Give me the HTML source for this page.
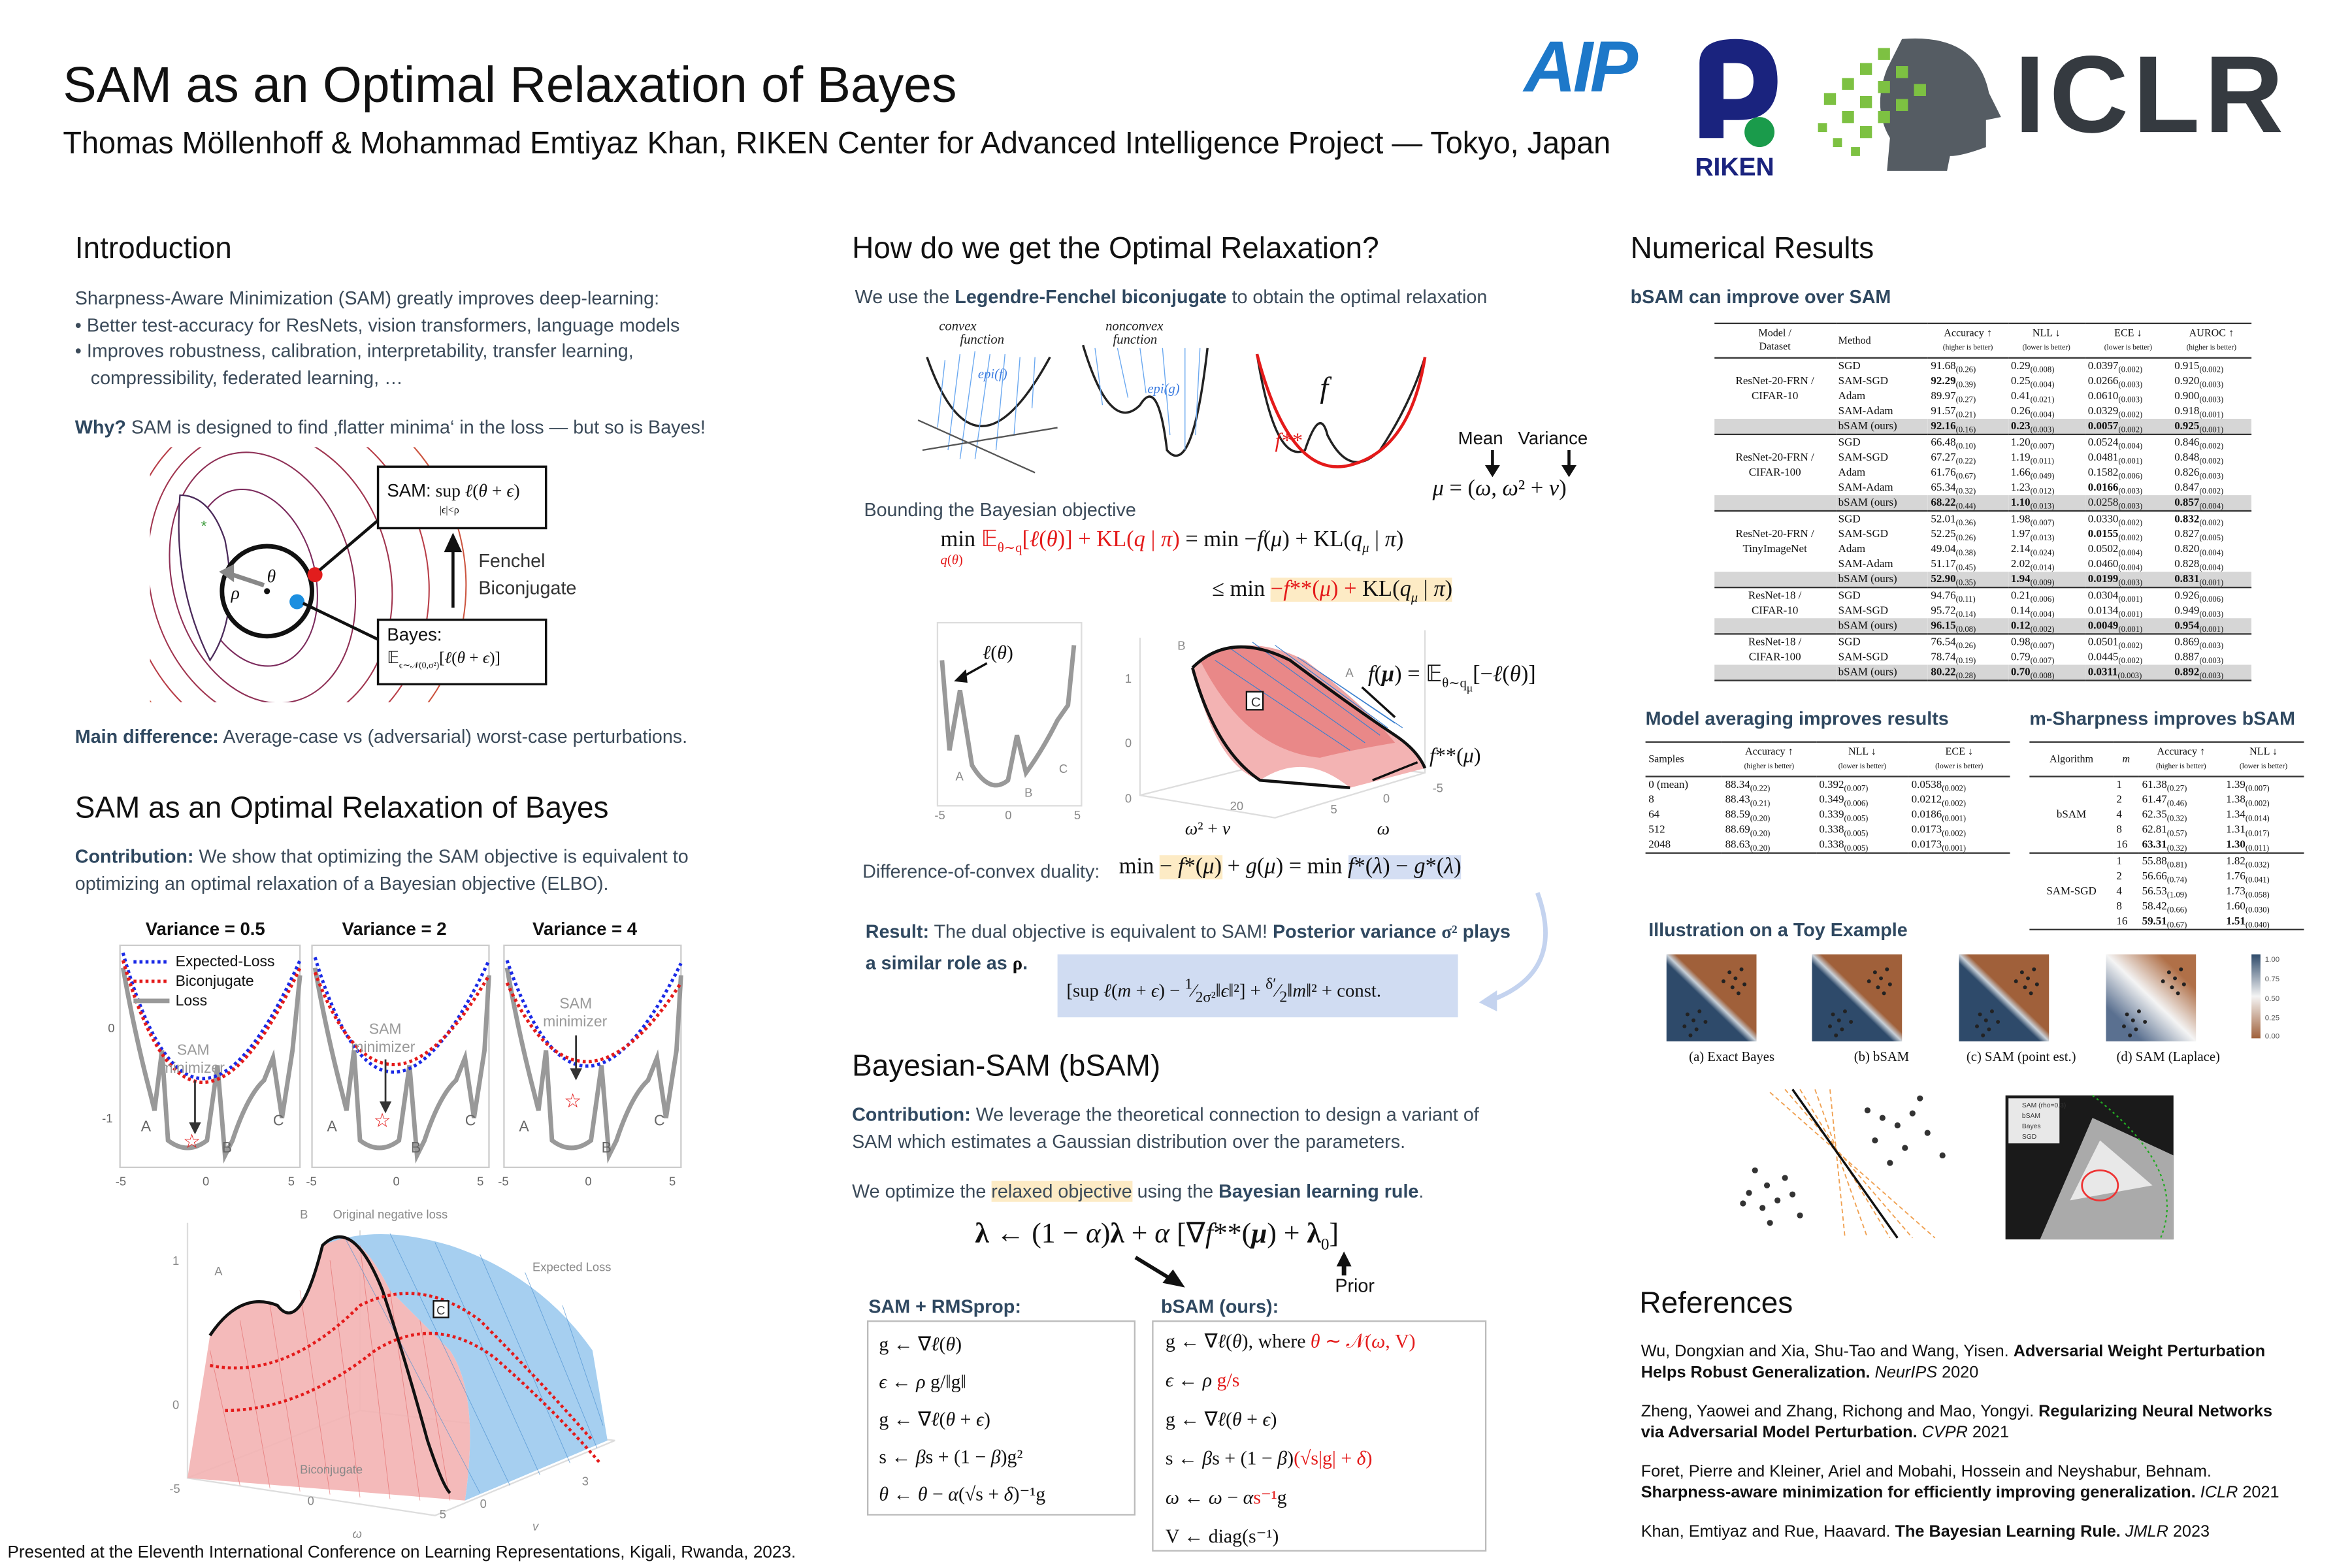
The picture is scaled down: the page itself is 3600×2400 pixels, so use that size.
<!DOCTYPE html>
<html><head><meta charset="utf-8"><style>
html,body{margin:0;padding:0;background:#fff;}
#wrap{width:3600px;height:2400px;overflow:hidden;position:relative;background:#fff;}
#p{position:absolute;left:0;top:0;width:1568px;height:1045px;transform:scale(2.2959,2.2967);transform-origin:0 0;font-family:"Liberation Sans",sans-serif;color:#3b4a59;}
.a{position:absolute;white-space:nowrap;}
.h{font-size:20px;color:#111;}
.t{font-size:12.5px;line-height:17.5px;}
.s{font-size:12.5px;font-weight:bold;color:#2f4860;}
.m{font-family:"Liberation Serif",serif;color:#111;}
table{border-collapse:collapse;font-family:"Liberation Serif",serif;color:#111;}
.tb td{padding:0 2px;height:10px;line-height:10px;font-size:7.4px;overflow:hidden;}
.tb .g td{background:#d6d6d6;}
.tb sub{font-size:5.5px;vertical-align:baseline;position:relative;top:1.5px;line-height:0;}
.tb .hd td{font-size:7px;line-height:9px;height:22px;text-align:center;}
.tb .sm{font-size:5px;}
.tb tr.b td{border-top:1.5px solid #333;}
</style></head><body><div id="wrap"><div id="p">

<!-- Title -->
<div class="a" style="left:42px;top:39px;font-size:33.5px;color:#111;">SAM as an Optimal Relaxation of Bayes</div>
<div class="a" style="left:42px;top:85px;font-size:20.4px;color:#111;">Thomas Möllenhoff &amp; Mohammad Emtiyaz Khan, RIKEN Center for Advanced Intelligence Project — Tokyo, Japan</div>

<!-- Logos -->
<div class="a" style="left:1016px;top:18px;font-size:48px;font-weight:bold;font-style:italic;color:#1d78c9;letter-spacing:-2px;">AIP</div>
<svg class="a" style="left:1125px;top:22px" width="70" height="100" viewBox="0 0 70 100">
<path d="M8 70 V20 Q8 4 32 4 Q60 4 60 32 Q60 58 34 58 L24 58 L24 70 Z M24 20 V44 L32 44 Q44 44 44 32 Q44 20 32 20 Z" fill="#1a237e"/>
<circle cx="48" cy="66" r="10" fill="#1a9b4b"/>
<text x="5" y="95" font-family="Liberation Sans" font-weight="bold" font-size="17" fill="#1a237e">RIKEN</text></svg>
<svg class="a" style="left:1208px;top:22px" width="130" height="92" viewBox="0 0 130 92">
<path d="M60 4 Q110 0 118 40 L126 56 L116 58 L116 76 Q100 82 92 82 L90 92 L50 92 L52 70 Q40 50 50 24 Z" fill="#555c63"/>
<g fill="#7dc142"><rect x="8" y="40" width="8" height="8"/><rect x="20" y="30" width="8" height="8"/><rect x="20" y="52" width="8" height="8"/><rect x="32" y="20" width="8" height="8"/><rect x="32" y="42" width="8" height="8"/><rect x="32" y="62" width="8" height="8"/><rect x="44" y="10" width="8" height="8"/><rect x="44" y="32" width="8" height="8"/><rect x="44" y="52" width="8" height="8"/><rect x="56" y="22" width="8" height="8"/><rect x="56" y="44" width="8" height="8"/><rect x="4" y="60" width="6" height="6"/><rect x="14" y="70" width="6" height="6"/><rect x="68" y="34" width="8" height="8"/><rect x="26" y="76" width="6" height="6"/></g></svg>
<div class="a" style="left:1343px;top:22px;font-size:73px;font-weight:bold;color:#353a40;letter-spacing:3px;">ICLR</div>

<!-- Column 1 -->
<div class="a h" style="left:50px;top:155px;">Introduction</div>
<div class="a t" style="left:50px;top:191px;">Sharpness-Aware Minimization (SAM) greatly improves deep-learning:<br>• Better test-accuracy for ResNets, vision transformers, language models<br>• Improves robustness, calibration, interpretability, transfer learning,<br>&nbsp;&nbsp;&nbsp;compressibility, federated learning, …</div>
<div class="a t" style="left:50px;top:277px;"><b style="color:#2f4860">Why?</b> SAM is designed to find ‚flatter minima‘ in the loss — but so is Bayes!</div>

<svg class="a" style="left:100px;top:298px" width="280" height="170" viewBox="100 298 280 170">
<g fill="none" stroke="#7b2a5c" stroke-width="0.9">
<ellipse cx="170" cy="385" rx="40" ry="60" transform="rotate(-15 170 385)"/>
<ellipse cx="175" cy="385" rx="60" ry="85" transform="rotate(-15 175 385)" stroke="#8e2f55"/>
<ellipse cx="180" cy="385" rx="80" ry="100" transform="rotate(-15 180 385)" stroke="#a0344e"/>
<ellipse cx="185" cy="385" rx="100" ry="115" transform="rotate(-15 185 385)" stroke="#b83d47"/>
<ellipse cx="190" cy="385" rx="120" ry="130" transform="rotate(-15 190 385)" stroke="#cc5540"/>
</g>
<path d="M120 330 Q115 390 140 440 Q160 410 150 360 Q140 330 120 330Z" fill="#fff" stroke="#4a2a5a"/>
<text x="134" y="354" fill="#3a9a3a" font-size="10">*</text>
<circle cx="178" cy="394" r="30" fill="#fff" stroke="#111" stroke-width="3"/>
<circle cx="178" cy="394" r="2" fill="#111"/>
<path d="M176 390 L152 382" stroke="#888" stroke-width="3"/><path d="M146 381 L156 376 L156 388Z" fill="#888"/>
<text x="154" y="399" font-family="Liberation Serif" font-style="italic" font-size="12" fill="#111">ρ</text>
<text x="178" y="388" font-family="Liberation Serif" font-style="italic" font-size="12" fill="#111">θ</text>
<circle cx="210" cy="383" r="5" fill="#e21d1d"/><circle cx="198" cy="401" r="5" fill="#1c8fe0"/>
<path d="M213 380 L260 340" stroke="#111" stroke-width="2"/>
<path d="M202 402 L260 430" stroke="#111" stroke-width="2"/>
<rect x="252" y="311" width="112" height="41" fill="#fff" stroke="#111" stroke-width="1.5"/>
<rect x="252" y="413" width="112" height="43" fill="#fff" stroke="#111" stroke-width="1.5"/>
<path d="M302 405 V366" stroke="#111" stroke-width="2"/><path d="M296 368 L302 355 L308 368Z" fill="#111"/>
</svg>
<div class="a m" style="left:258px;top:320px;font-size:12px;"><span style="font-family:'Liberation Sans'">SAM:</span> sup <i>ℓ</i>(<i>θ</i> + <i>ϵ</i>)</div>
<div class="a m" style="left:293px;top:336px;font-size:7px;">|ϵ|&lt;ρ</div>
<div class="a t" style="left:319px;top:366px;color:#333;">Fenchel<br>Biconjugate</div>
<div class="a" style="left:258px;top:416px;font-size:12px;color:#111;">Bayes:</div>
<div class="a m" style="left:258px;top:432px;font-size:11px;">𝔼<sub style="font-size:6px">ϵ∼𝒩(0,σ²)</sub>[<i>ℓ</i>(<i>θ</i> + <i>ϵ</i>)]</div>
<div class="a t" style="left:50px;top:483px;"><b style="color:#2f4860">Main difference:</b> Average-case vs (adversarial) worst-case perturbations.</div>

<div class="a h" style="left:50px;top:528px;">SAM as an Optimal Relaxation of Bayes</div>
<div class="a t" style="left:50px;top:563px;"><b style="color:#2f4860">Contribution:</b> We show that optimizing the SAM objective is equivalent to<br>optimizing an optimal relaxation of a Bayesian objective (ELBO).</div>

<div class="a" style="left:97px;top:612px;font-size:12px;font-weight:bold;color:#111;">Variance = 0.5</div>
<div class="a" style="left:228px;top:612px;font-size:12px;font-weight:bold;color:#111;">Variance = 2</div>
<div class="a" style="left:355px;top:612px;font-size:12px;font-weight:bold;color:#111;">Variance = 4</div>
<svg class="a" style="left:60px;top:625px" width="400" height="170" viewBox="60 625 400 170">
<g font-family="Liberation Sans" font-size="8" fill="#666">
<rect x="80" y="630" width="120" height="148" fill="none" stroke="#ccc"/>
<path d="M82 645 Q90 690 100 728 L103 740 L108 700 L112 760 Q125 770 138 760 L145 710 L150 770 L155 760 Q165 730 176 720 L182 705 L188 745 L195 700 L200 650" fill="none" stroke="#999" stroke-width="3"/>
<path d="M82 635 Q128 800 200 640" fill="none" stroke="#1a2ae6" stroke-width="2.2" stroke-dasharray="2 2"/>
<path d="M82 640 Q128 800 200 645" fill="none" stroke="#e41a1a" stroke-width="2.2" stroke-dasharray="2 2"/>
<text x="72" y="688">0</text><text x="68" y="748">-1</text><text x="77" y="790">-5</text><text x="135" y="790">0</text><text x="192" y="790">5</text>
<text x="94" y="754" font-size="10">A</text><text x="148" y="768" font-size="10">B</text><text x="182" y="750" font-size="10">C</text>
<text x="118" y="703" font-size="10" fill="#999">SAM</text><text x="107" y="715" font-size="10" fill="#999">minimizer</text>
<path d="M130 720 V752" stroke="#333" stroke-width="1.2"/><path d="M126 748 L130 756 L134 748Z" fill="#333"/>
<text x="122" y="765" font-size="13" fill="#e41a1a">☆</text>
<rect x="208" y="630" width="118" height="148" fill="none" stroke="#ccc"/>
<path d="M210 645 Q218 690 228 728 L231 740 L236 700 L240 760 Q253 770 266 760 L273 710 L278 770 L283 760 Q293 730 304 720 L310 705 L316 745 L323 700 L326 650" fill="none" stroke="#999" stroke-width="3"/>
<path d="M210 638 Q256 790 326 640" fill="none" stroke="#1a2ae6" stroke-width="2.2" stroke-dasharray="2 2"/>
<path d="M210 648 Q256 770 326 650" fill="none" stroke="#e41a1a" stroke-width="2.2" stroke-dasharray="2 2"/>
<text x="218" y="754" font-size="10">A</text><text x="274" y="768" font-size="10">B</text><text x="310" y="750" font-size="10">C</text>
<text x="246" y="689" font-size="10" fill="#999">SAM</text><text x="234" y="701" font-size="10" fill="#999">minimizer</text>
<path d="M257 706 V738" stroke="#333" stroke-width="1.2"/><path d="M253 734 L257 742 L261 734Z" fill="#333"/>
<text x="249" y="751" font-size="13" fill="#e41a1a">☆</text>
<text x="204" y="790">-5</text><text x="262" y="790">0</text><text x="318" y="790">5</text>
<rect x="336" y="630" width="118" height="148" fill="none" stroke="#ccc"/>
<path d="M338 645 Q346 690 356 728 L359 740 L364 700 L368 760 Q381 770 394 760 L401 710 L406 770 L411 760 Q421 730 432 720 L438 705 L444 745 L451 700 L454 650" fill="none" stroke="#999" stroke-width="3"/>
<path d="M338 640 Q386 780 454 642" fill="none" stroke="#1a2ae6" stroke-width="2.2" stroke-dasharray="2 2"/>
<path d="M338 655 Q386 760 454 655" fill="none" stroke="#e41a1a" stroke-width="2.2" stroke-dasharray="2 2"/>
<text x="346" y="754" font-size="10">A</text><text x="401" y="768" font-size="10">B</text><text x="436" y="750" font-size="10">C</text>
<text x="373" y="672" font-size="10" fill="#999">SAM</text><text x="362" y="684" font-size="10" fill="#999">minimizer</text>
<path d="M384 690 V716" stroke="#333" stroke-width="1.2"/><path d="M380 712 L384 720 L388 712Z" fill="#333"/>
<text x="376" y="738" font-size="13" fill="#e41a1a">☆</text>
<text x="332" y="790">-5</text><text x="390" y="790">0</text><text x="446" y="790">5</text>
</g>
<path d="M89 641 H113" stroke="#1a2ae6" stroke-width="2.2" stroke-dasharray="2 2"/>
<path d="M89 654 H113" stroke="#e41a1a" stroke-width="2.2" stroke-dasharray="2 2"/>
<path d="M89 667 H113" stroke="#999" stroke-width="3"/>
</svg>
<div class="a" style="left:117px;top:635px;font-size:10px;color:#111;line-height:13px;">Expected-Loss<br>Biconjugate<br>Loss</div>

<!-- 3D plot col1 -->
<svg class="a" style="left:100px;top:800px" width="320" height="225" viewBox="100 800 320 225">
<g stroke="#ddd" fill="none"><path d="M125 815 L125 985 L290 1010 L410 960"/><path d="M125 985 L240 940 L410 960"/><path d="M240 820 L240 940"/></g>
<path d="M125 985 L140 890 Q160 860 185 870 Q200 890 215 830 Q235 810 260 860 L300 900 Q320 930 310 1000 L125 985Z" fill="#f3b3b3" opacity="0.9"/>
<path d="M215 830 Q250 815 300 830 Q360 850 395 900 L405 960 L310 1000 Q320 930 300 900 L260 860 Q235 810 215 830Z" fill="#a6cff0"/>
<g stroke="#e06060" stroke-width="0.4" opacity="0.6">
<path d="M140 900 L160 990 M160 880 L180 992 M180 870 L200 994 M200 860 L220 996 M220 840 L240 998 M240 830 L260 999 M260 860 L280 1000 M280 880 L300 1000"/></g>
<g stroke="#4a8fd0" stroke-width="0.4" opacity="0.7"><path d="M230 825 L320 995 M260 822 L340 990 M290 828 L360 983 M320 836 L380 975 M350 848 L398 965 M375 870 L402 950"/></g>
<path d="M140 890 Q160 860 185 870 Q200 890 215 830 Q235 810 255 860 Q270 905 285 960 Q295 990 300 995" fill="none" stroke="#111" stroke-width="2"/>
<path d="M140 910 Q190 920 240 870 Q280 850 320 880 Q360 920 395 960" fill="none" stroke="#e41a1a" stroke-width="2" stroke-dasharray="2 2"/>
<path d="M150 940 Q200 940 250 900 Q290 875 330 905 Q370 940 400 975" fill="none" stroke="#e41a1a" stroke-width="2" stroke-dasharray="2 2"/>
<g font-family="Liberation Sans" font-size="8" fill="#888">
<text x="200" y="812">B</text><text x="222" y="812">Original negative loss</text><text x="143" y="850">A</text><text x="355" y="847">Expected Loss</text>
<text x="200" y="982">Biconjugate</text><text x="115" y="843">1</text><text x="115" y="939">0</text><text x="113" y="995">-5</text>
<text x="205" y="1003">0</text><text x="293" y="1012">5</text><text x="320" y="1005">0</text><text x="388" y="990">3</text>
<text x="235" y="1025" font-style="italic">ω</text><text x="355" y="1020" font-style="italic">v</text></g>
<rect x="289" y="867" width="10" height="11" fill="#fff" stroke="#111"/><text x="291" y="876" font-size="8" fill="#333" font-family="Liberation Sans">C</text>
</svg>
<div class="a" style="left:5px;top:1029px;font-size:11.4px;color:#111;">Presented at the Eleventh International Conference on Learning Representations, Kigali, Rwanda, 2023.</div>

<!-- Column 2 -->
<div class="a h" style="left:568px;top:155px;">How do we get the Optimal Relaxation?</div>
<div class="a t" style="left:570px;top:190px;">We use the <b style="color:#2f4860">Legendre-Fenchel biconjugate</b> to obtain the optimal relaxation</div>
<svg class="a" style="left:610px;top:208px" width="460" height="130" viewBox="610 208 460 130">
<g font-family="Liberation Serif" font-style="italic" fill="#222" font-size="9"><text x="626" y="220">convex</text><text x="640" y="229">function</text><text x="737" y="220">nonconvex</text><text x="742" y="229">function</text><text x="652" y="252" fill="#3a7be0">epi(f)</text><text x="765" y="262" fill="#3a7be0">epi(g)</text></g>
<path d="M618 238 Q650 330 700 238" fill="none" stroke="#222" stroke-width="1.5"/>
<g stroke="#6aa8f0" stroke-width="0.6"><path d="M630 240 L625 285 M640 236 L632 300 M650 234 L640 306 M660 236 L650 306 M670 236 L664 300 M680 238 L676 290 M690 238 L688 272"/></g>
<path d="M612 280 L690 315 M615 300 L705 285" stroke="#555"/>
<path d="M722 230 Q740 290 760 270 Q772 250 778 300 Q795 320 805 232" fill="none" stroke="#222" stroke-width="1.5"/>
<g stroke="#6aa8f0" stroke-width="0.6"><path d="M730 232 L735 270 M745 232 L752 265 M760 232 L764 262 M775 232 L780 290 M790 232 L790 300 M800 232 L797 290"/></g>
<path d="M838 236 Q850 310 870 300 Q880 270 885 290 Q900 320 920 300 Q940 270 950 238" fill="none" stroke="#222" stroke-width="1.5"/>
<path d="M838 236 Q860 320 900 310 Q940 300 950 238" fill="none" stroke="#e41a1a" stroke-width="2"/>
<text x="880" y="265" font-family="Liberation Serif" font-style="italic" font-size="20" fill="#111">f</text>
<text x="850" y="298" font-family="Liberation Serif" font-style="italic" font-size="14" fill="#e41a1a">f**</text>
<path d="M995 300 V312 M1046 300 V312" stroke="#111" stroke-width="2"/><path d="M990 310 L995 318 L1000 310Z M1041 310 L1046 318 L1051 310Z" fill="#111"/>
</svg>
<div class="a" style="left:972px;top:285px;font-size:12px;color:#111;">Mean&nbsp;&nbsp; Variance</div>
<div class="a m" style="left:955px;top:318px;font-size:15px;"><i>μ</i> = (<i>ω</i>, <i>ω</i>² + <i>v</i>)</div>
<div class="a t" style="left:576px;top:332px;">Bounding the Bayesian objective</div>
<div class="a m" style="left:627px;top:350px;font-size:15px;">min <span style="color:#e41a1a">𝔼<sub style="font-size:9px">θ∼q</sub>[<i>ℓ</i>(<i>θ</i>)] + KL(<i>q</i> | <i>π</i>)</span> = min −<i>f</i>(<i>μ</i>) + KL(<i>q<sub style="font-size:9px">μ</sub></i> | <i>π</i>)</div>
<div class="a m" style="left:627px;top:368px;font-size:9px;color:#e41a1a"><i>q</i>(<i>θ</i>)</div>
<div class="a m" style="left:808px;top:385px;font-size:15px;">≤ min <span style="background:#fdebc5;color:#e41a1a">−<i>f</i>**(<i>μ</i>) + <span style="color:#111">KL(<i>q<sub style="font-size:9px">μ</sub></i> | <i>π</i>)</span></span></div>

<svg class="a" style="left:615px;top:410px" width="440" height="160" viewBox="615 410 440 160">
<rect x="625" y="415" width="96" height="122" fill="none" stroke="#ddd"/>
<path d="M628 440 L633 500 L640 460 L648 510 Q660 530 672 520 L678 490 L684 515 Q695 500 705 480 L712 470 L716 430" fill="none" stroke="#999" stroke-width="3"/>
<path d="M658 442 L640 452" stroke="#111" stroke-width="1.5"/><path d="M636 454 L644 446 L645 455Z" fill="#111"/>
<g font-family="Liberation Sans" font-size="8" fill="#888"><text x="637" y="520">A</text><text x="683" y="531">B</text><text x="706" y="515">C</text><text x="623" y="546">-5</text><text x="670" y="546">0</text><text x="716" y="546">5</text>
<text x="785" y="433">B</text><text x="897" y="451">A</text><text x="750" y="455">1</text><text x="750" y="498">0</text><text x="750" y="535">0</text><text x="820" y="540">20</text><text x="887" y="542">5</text><text x="922" y="535">0</text><text x="955" y="528">-5</text></g>
<g stroke="#ddd" fill="none"><path d="M760 425 L760 530 L850 545 L950 515 L950 420"/><path d="M760 530 L860 505 L950 515"/></g>
<path d="M795 445 Q820 420 860 440 Q900 470 930 490 Q945 500 950 512 L900 525 Q870 500 840 520 Q810 510 795 445Z" fill="#f3b3b3"/>
<path d="M800 440 Q830 420 870 440 Q910 470 930 495 Q900 500 880 505 Q830 500 800 440Z" fill="#e26a6a" opacity="0.6"/>
<g stroke="#3a80d0" stroke-width="0.5"><path d="M810 440 L900 500 M820 432 L910 495 M835 428 L920 490 M850 430 L925 485 M865 438 L930 482 M880 448 L935 485"/></g>
<path d="M795 445 Q820 420 860 440 Q900 470 930 490 Q945 500 950 512" fill="none" stroke="#111" stroke-width="2"/>
<path d="M795 445 Q810 500 840 520 L900 525" fill="none" stroke="#111" stroke-width="2"/>
<rect x="831" y="461" width="11" height="12" fill="#fff" stroke="#111"/><text x="834" y="471" font-size="9" fill="#333" font-family="Liberation Sans">C</text>
<path d="M908 458 L930 478 M945 508 L915 520" stroke="#111" stroke-width="1.5"/>
</svg>
<div class="a m" style="left:912px;top:440px;font-size:15px;"><i>f</i>(<b><i>μ</i></b>) = 𝔼<sub style="font-size:9px">θ∼q<sub>μ</sub></sub>[−<i>ℓ</i>(<i>θ</i>)]</div>
<div class="a m" style="left:655px;top:427px;font-size:13px;"><i>ℓ</i>(<i>θ</i>)</div>
<div class="a m" style="left:953px;top:497px;font-size:14px;"><i>f</i>**(<i>μ</i>)</div>
<div class="a m" style="left:790px;top:545px;font-size:12px;"><i>ω</i>² + <i>v</i></div>
<div class="a m" style="left:918px;top:545px;font-size:12px;"><i>ω</i></div>
<div class="a t" style="left:575px;top:573px;">Difference-of-convex duality:</div>
<div class="a m" style="left:746px;top:570px;font-size:15px;">min <span style="background:#fdebc5">− <i>f</i>*(<i>μ</i>)</span> + <i>g</i>(<i>μ</i>) = min <span style="background:#d4def3"><i>f</i>*(<i>λ</i>) − <i>g</i>*(<i>λ</i>)</span></div>
<div class="a t" style="left:577px;top:613px;color:#2f4860;"><b>Result:</b> <span style="color:#3b4a59">The dual objective is equivalent to SAM!</span> <b>Posterior variance <span class="m" style="color:#2f4860">σ²</span> plays</b></div>
<div class="a t" style="left:577px;top:634px;color:#2f4860;"><b>a similar role as <span class="m">ρ</span>.</b></div>
<div class="a m" style="left:705px;top:636px;width:267px;height:42px;background:#d0dcf2;font-size:12.5px;line-height:42px;padding-left:6px;box-sizing:border-box;">[sup <i>ℓ</i>(<i>m</i> + <i>ϵ</i>) − <sup style="font-size:10px">1</sup>⁄<sub style="font-size:10px">2σ²</sub>‖<i>ϵ</i>‖²] + <sup>δ′</sup>⁄<sub>2</sub>‖<i>m</i>‖² + const.</div>
<svg class="a" style="left:980px;top:590px" width="60" height="90" viewBox="980 590 60 90"><path d="M1025 595 Q1045 650 990 668" fill="none" stroke="#c4d3ef" stroke-width="3"/><path d="M986 668 L998 660 L998 674Z" fill="#c4d3ef"/></svg>

<div class="a h" style="left:568px;top:700px;">Bayesian-SAM (bSAM)</div>
<div class="a t" style="left:568px;top:735px;"><b style="color:#2f4860">Contribution:</b> We leverage the theoretical connection to design a variant of<br>SAM which estimates a Gaussian distribution over the parameters.</div>
<div class="a t" style="left:568px;top:786px;">We optimize the <span style="background:#fdebc5">relaxed objective</span> using the <b style="color:#2f4860">Bayesian learning rule</b>.</div>
<div class="a m" style="left:650px;top:811px;font-size:19px;"><b>λ</b> ← (1 − <i>α</i>)<b>λ</b> + <i>α</i> [∇<i>f</i>**(<b><i>μ</i></b>) + <b>λ</b><sub style="font-size:11px">0</sub>]</div>
<svg class="a" style="left:750px;top:830px" width="160" height="35" viewBox="750 830 160 35"><path d="M757 838 L780 852" stroke="#111" stroke-width="2.5"/><path d="M775 855 L790 858 L782 846Z" fill="#111"/><path d="M896 850 V842" stroke="#111" stroke-width="3"/><path d="M891 844 L896 834 L901 844Z" fill="#111"/></svg>
<div class="a" style="left:890px;top:850px;font-size:12.5px;color:#111;">Prior</div>
<div class="a s" style="left:579px;top:864px;">SAM + RMSprop:</div>
<div class="a s" style="left:774px;top:864px;">bSAM (ours):</div>
<div class="a m" style="left:578px;top:880px;width:179px;height:130px;border:1px solid #bbb;box-sizing:border-box;font-size:13px;line-height:25px;padding:2px 0 0 7px;">
g ← ∇<i>ℓ</i>(<i>θ</i>)<br><i>ϵ</i> ← <i>ρ</i> g/‖g‖<br>g ← ∇<i>ℓ</i>(<i>θ</i> + <i>ϵ</i>)<br>s ← <i>β</i>s + (1 − <i>β</i>)g²<br><i>θ</i> ← <i>θ</i> − <i>α</i>(√s + <i>δ</i>)⁻¹g</div>
<div class="a m" style="left:768px;top:880px;width:223px;height:154px;border:1px solid #bbb;box-sizing:border-box;font-size:13px;line-height:26px;padding:0 0 0 8px;">
g ← ∇<i>ℓ</i>(<i>θ</i>), where <span style="color:#e41a1a"><i>θ</i> ∼ 𝒩(<i>ω</i>, V)</span><br><i>ϵ</i> ← <i>ρ</i> <span style="color:#e41a1a">g/s</span><br>g ← ∇<i>ℓ</i>(<i>θ</i> + <i>ϵ</i>)<br>s ← <i>β</i>s + (1 − <i>β</i>)<span style="color:#e41a1a">(√s|g| + <i>δ</i>)</span><br><i>ω</i> ← <i>ω</i> − <i>α</i><span style="color:#e41a1a">s⁻¹</span>g<br>V ← diag(s⁻¹)</div>

<!-- Column 3 -->
<div class="a h" style="left:1087px;top:155px;">Numerical Results</div>
<div class="a s" style="left:1087px;top:191px;">bSAM can improve over SAM</div>
<table class="a tb" style="left:1143px;top:215px;width:358px;border-top:1.5px solid #333;border-bottom:1.5px solid #333;">
<tr class="hd" style="border-bottom:1px solid #333"><td>Model /<br>Dataset</td><td style="text-align:left">Method</td><td>Accuracy ↑<br><span class="sm">(higher is better)</span></td><td>NLL ↓<br><span class="sm">(lower is better)</span></td><td>ECE ↓<br><span class="sm">(lower is better)</span></td><td>AUROC ↑<br><span class="sm">(higher is better)</span></td></tr>
<tr><td></td><td>SGD</td><td>91.68<sub>(0.26)</sub></td><td>0.29<sub>(0.008)</sub></td><td>0.0397<sub>(0.002)</sub></td><td>0.915<sub>(0.002)</sub></td></tr>
<tr><td style="text-align:center">ResNet-20-FRN /</td><td>SAM-SGD</td><td><b>92.29</b><sub>(0.39)</sub></td><td>0.25<sub>(0.004)</sub></td><td>0.0266<sub>(0.003)</sub></td><td>0.920<sub>(0.003)</sub></td></tr>
<tr><td style="text-align:center">CIFAR-10</td><td>Adam</td><td>89.97<sub>(0.27)</sub></td><td>0.41<sub>(0.021)</sub></td><td>0.0610<sub>(0.003)</sub></td><td>0.900<sub>(0.003)</sub></td></tr>
<tr><td></td><td>SAM-Adam</td><td>91.57<sub>(0.21)</sub></td><td>0.26<sub>(0.004)</sub></td><td>0.0329<sub>(0.002)</sub></td><td>0.918<sub>(0.001)</sub></td></tr>
<tr class="g"><td></td><td>bSAM (ours)</td><td><b>92.16</b><sub>(0.16)</sub></td><td><b>0.23</b><sub>(0.003)</sub></td><td><b>0.0057</b><sub>(0.002)</sub></td><td><b>0.925</b><sub>(0.001)</sub></td></tr>
<tr class="b"><td></td><td>SGD</td><td>66.48<sub>(0.10)</sub></td><td>1.20<sub>(0.007)</sub></td><td>0.0524<sub>(0.004)</sub></td><td>0.846<sub>(0.002)</sub></td></tr>
<tr><td style="text-align:center">ResNet-20-FRN /</td><td>SAM-SGD</td><td>67.27<sub>(0.22)</sub></td><td>1.19<sub>(0.011)</sub></td><td>0.0481<sub>(0.001)</sub></td><td>0.848<sub>(0.002)</sub></td></tr>
<tr><td style="text-align:center">CIFAR-100</td><td>Adam</td><td>61.76<sub>(0.67)</sub></td><td>1.66<sub>(0.049)</sub></td><td>0.1582<sub>(0.006)</sub></td><td>0.826<sub>(0.003)</sub></td></tr>
<tr><td></td><td>SAM-Adam</td><td>65.34<sub>(0.32)</sub></td><td>1.23<sub>(0.012)</sub></td><td><b>0.0166</b><sub>(0.003)</sub></td><td>0.847<sub>(0.002)</sub></td></tr>
<tr class="g"><td></td><td>bSAM (ours)</td><td><b>68.22</b><sub>(0.44)</sub></td><td><b>1.10</b><sub>(0.013)</sub></td><td>0.0258<sub>(0.003)</sub></td><td><b>0.857</b><sub>(0.004)</sub></td></tr>
<tr class="b"><td></td><td>SGD</td><td>52.01<sub>(0.36)</sub></td><td>1.98<sub>(0.007)</sub></td><td>0.0330<sub>(0.002)</sub></td><td><b>0.832</b><sub>(0.002)</sub></td></tr>
<tr><td style="text-align:center">ResNet-20-FRN /</td><td>SAM-SGD</td><td>52.25<sub>(0.26)</sub></td><td>1.97<sub>(0.013)</sub></td><td><b>0.0155</b><sub>(0.002)</sub></td><td>0.827<sub>(0.005)</sub></td></tr>
<tr><td style="text-align:center">TinyImageNet</td><td>Adam</td><td>49.04<sub>(0.38)</sub></td><td>2.14<sub>(0.024)</sub></td><td>0.0502<sub>(0.004)</sub></td><td>0.820<sub>(0.004)</sub></td></tr>
<tr><td></td><td>SAM-Adam</td><td>51.17<sub>(0.45)</sub></td><td>2.02<sub>(0.014)</sub></td><td>0.0460<sub>(0.004)</sub></td><td>0.828<sub>(0.004)</sub></td></tr>
<tr class="g"><td></td><td>bSAM (ours)</td><td><b>52.90</b><sub>(0.35)</sub></td><td><b>1.94</b><sub>(0.009)</sub></td><td><b>0.0199</b><sub>(0.003)</sub></td><td><b>0.831</b><sub>(0.001)</sub></td></tr>
<tr class="b"><td style="text-align:center">ResNet-18 /</td><td>SGD</td><td>94.76<sub>(0.11)</sub></td><td>0.21<sub>(0.006)</sub></td><td>0.0304<sub>(0.001)</sub></td><td>0.926<sub>(0.006)</sub></td></tr>
<tr><td style="text-align:center">CIFAR-10</td><td>SAM-SGD</td><td>95.72<sub>(0.14)</sub></td><td>0.14<sub>(0.004)</sub></td><td>0.0134<sub>(0.001)</sub></td><td>0.949<sub>(0.003)</sub></td></tr>
<tr class="g"><td></td><td>bSAM (ours)</td><td><b>96.15</b><sub>(0.08)</sub></td><td><b>0.12</b><sub>(0.002)</sub></td><td><b>0.0049</b><sub>(0.001)</sub></td><td><b>0.954</b><sub>(0.001)</sub></td></tr>
<tr class="b"><td style="text-align:center">ResNet-18 /</td><td>SGD</td><td>76.54<sub>(0.26)</sub></td><td>0.98<sub>(0.007)</sub></td><td>0.0501<sub>(0.002)</sub></td><td>0.869<sub>(0.003)</sub></td></tr>
<tr><td style="text-align:center">CIFAR-100</td><td>SAM-SGD</td><td>78.74<sub>(0.19)</sub></td><td>0.79<sub>(0.007)</sub></td><td>0.0445<sub>(0.002)</sub></td><td>0.887<sub>(0.003)</sub></td></tr>
<tr class="g"><td></td><td>bSAM (ours)</td><td><b>80.22</b><sub>(0.28)</sub></td><td><b>0.70</b><sub>(0.008)</sub></td><td><b>0.0311</b><sub>(0.003)</sub></td><td><b>0.892</b><sub>(0.003)</sub></td></tr>
</table>

<div class="a s" style="left:1097px;top:472px;">Model averaging improves results</div>
<div class="a s" style="left:1353px;top:472px;">m-Sharpness improves bSAM</div>
<table class="a tb" style="left:1097px;top:494px;width:243px;border-top:1.5px solid #333;border-bottom:1.5px solid #333;">
<tr class="hd" style="border-bottom:1px solid #333"><td style="text-align:left">Samples</td><td>Accuracy ↑<br><span class="sm">(higher is better)</span></td><td>NLL ↓<br><span class="sm">(lower is better)</span></td><td>ECE ↓<br><span class="sm">(lower is better)</span></td></tr>
<tr><td>0 (mean)</td><td>88.34<sub>(0.22)</sub></td><td>0.392<sub>(0.007)</sub></td><td>0.0538<sub>(0.002)</sub></td></tr>
<tr><td>8</td><td>88.43<sub>(0.21)</sub></td><td>0.349<sub>(0.006)</sub></td><td>0.0212<sub>(0.002)</sub></td></tr>
<tr><td>64</td><td>88.59<sub>(0.20)</sub></td><td>0.339<sub>(0.005)</sub></td><td>0.0186<sub>(0.001)</sub></td></tr>
<tr><td>512</td><td>88.69<sub>(0.20)</sub></td><td>0.338<sub>(0.005)</sub></td><td>0.0173<sub>(0.002)</sub></td></tr>
<tr><td>2048</td><td>88.63<sub>(0.20)</sub></td><td>0.338<sub>(0.005)</sub></td><td>0.0173<sub>(0.001)</sub></td></tr>
</table>
<table class="a tb" style="left:1353px;top:494px;width:183px;border-top:1.5px solid #333;border-bottom:1.5px solid #333;">
<tr class="hd" style="border-bottom:1px solid #333"><td>Algorithm</td><td><i>m</i></td><td>Accuracy ↑<br><span class="sm">(higher is better)</span></td><td>NLL ↓<br><span class="sm">(lower is better)</span></td></tr>
<tr><td></td><td>1</td><td>61.38<sub>(0.27)</sub></td><td>1.39<sub>(0.007)</sub></td></tr>
<tr><td></td><td>2</td><td>61.47<sub>(0.46)</sub></td><td>1.38<sub>(0.002)</sub></td></tr>
<tr><td style="text-align:center">bSAM</td><td>4</td><td>62.35<sub>(0.32)</sub></td><td>1.34<sub>(0.014)</sub></td></tr>
<tr><td></td><td>8</td><td>62.81<sub>(0.57)</sub></td><td>1.31<sub>(0.017)</sub></td></tr>
<tr><td></td><td>16</td><td><b>63.31</b><sub>(0.32)</sub></td><td><b>1.30</b><sub>(0.011)</sub></td></tr>
<tr style="border-top:1px solid #333"><td></td><td>1</td><td>55.88<sub>(0.81)</sub></td><td>1.82<sub>(0.032)</sub></td></tr>
<tr><td></td><td>2</td><td>56.66<sub>(0.74)</sub></td><td>1.76<sub>(0.041)</sub></td></tr>
<tr><td style="text-align:center">SAM-SGD</td><td>4</td><td>56.53<sub>(1.09)</sub></td><td>1.73<sub>(0.058)</sub></td></tr>
<tr><td></td><td>8</td><td>58.42<sub>(0.66)</sub></td><td>1.60<sub>(0.030)</sub></td></tr>
<tr><td></td><td>16</td><td><b>59.51</b><sub>(0.67)</sub></td><td><b>1.51</b><sub>(0.040)</sub></td></tr>
</table>

<div class="a s" style="left:1099px;top:613px;">Illustration on a Toy Example</div>
<svg class="a" style="left:1105px;top:630px" width="430" height="200" viewBox="1105 630 430 200">
<defs>
<linearGradient id="g1" x1="0" y1="1" x2="1" y2="0"><stop offset="0.45" stop-color="#2e4a6a"/><stop offset="0.5" stop-color="#c8d0d8"/><stop offset="0.55" stop-color="#a0603a"/></linearGradient>
<linearGradient id="g4" x1="0" y1="1" x2="1" y2="0"><stop offset="0.2" stop-color="#5a7090"/><stop offset="0.5" stop-color="#f4f4f4"/><stop offset="0.8" stop-color="#b07048"/></linearGradient>
<linearGradient id="cb" x1="0" y1="0" x2="0" y2="1"><stop offset="0" stop-color="#2e4a6a"/><stop offset="0.5" stop-color="#f4f4f4"/><stop offset="1" stop-color="#a0603a"/></linearGradient>
<g id="pts" fill="#222"><circle cx="14" cy="40" r="1.3"/><circle cx="18" cy="44" r="1.3"/><circle cx="22" cy="38" r="1.3"/><circle cx="12" cy="48" r="1.3"/><circle cx="20" cy="50" r="1.3"/><circle cx="26" cy="45" r="1.3"/><circle cx="16" cy="54" r="1.3"/><circle cx="42" cy="12" r="1.3"/><circle cx="46" cy="16" r="1.3"/><circle cx="50" cy="10" r="1.3"/><circle cx="44" cy="22" r="1.3"/><circle cx="52" cy="20" r="1.3"/><circle cx="38" cy="18" r="1.3"/><circle cx="48" cy="26" r="1.3"/></g>
</defs>
<rect x="1111" y="636" width="60" height="58" fill="url(#g1)"/><use href="#pts" x="1111" y="636"/>
<rect x="1208" y="636" width="60" height="58" fill="url(#g1)"/><use href="#pts" x="1208" y="636"/>
<rect x="1306" y="636" width="60" height="58" fill="url(#g1)"/><use href="#pts" x="1306" y="636"/>
<rect x="1404" y="636" width="60" height="58" fill="url(#g4)"/><use href="#pts" x="1404" y="636"/>
<rect x="1501" y="636" width="6" height="56" fill="url(#cb)"/>
<g font-family="Liberation Sans" font-size="5" fill="#555"><text x="1510" y="641">1.00</text><text x="1510" y="654">0.75</text><text x="1510" y="667">0.50</text><text x="1510" y="680">0.25</text><text x="1510" y="692">0.00</text></g>
<g stroke="#f0a050" stroke-width="0.8" stroke-dasharray="3 2"><path d="M1180 728 L1290 825 M1190 726 L1275 825 M1200 726 L1260 825 M1210 726 L1245 825 M1220 726 L1230 825"/></g>
<path d="M1195 726 L1265 825" stroke="#111" stroke-width="1.5"/>
<g fill="#333"><circle cx="1170" cy="780" r="2"/><circle cx="1178" cy="790" r="2"/><circle cx="1166" cy="795" r="2"/><circle cx="1185" cy="800" r="2"/><circle cx="1175" cy="805" r="2"/><circle cx="1190" cy="785" r="2"/><circle cx="1200" cy="810" r="2"/><circle cx="1162" cy="802" r="2"/><circle cx="1195" cy="796" r="2"/><circle cx="1180" cy="815" r="2"/><circle cx="1245" cy="740" r="2"/><circle cx="1255" cy="745" r="2"/><circle cx="1265" cy="750" r="2"/><circle cx="1275" cy="742" r="2"/><circle cx="1250" cy="760" r="2"/><circle cx="1270" cy="765" r="2"/><circle cx="1285" cy="755" r="2"/><circle cx="1260" cy="775" r="2"/><circle cx="1295" cy="770" r="2"/><circle cx="1280" cy="732" r="2"/></g>
<rect x="1337" y="730" width="112" height="96" fill="#1a1a1a"/>
<path d="M1360 826 L1395 745 L1449 770 L1449 826Z" fill="#aaa"/>
<path d="M1380 800 L1400 760 L1435 790 Z" fill="#e8e8e8"/>
<ellipse cx="1400" cy="790" rx="12" ry="10" fill="none" stroke="#e33" stroke-width="1.2"/>
<path d="M1395 730 Q1460 780 1440 826" fill="none" stroke="#2a2" stroke-dasharray="1.5 2"/>
<rect x="1339" y="732" width="34" height="30" fill="#fff" opacity="0.9"/>
<g font-family="Liberation Sans" font-size="4.5" fill="#333"><text x="1348" y="738">SAM (rho=0.3)</text><text x="1348" y="745">bSAM</text><text x="1348" y="752">Bayes</text><text x="1348" y="759">SGD</text></g>
</svg>
<div class="a m" style="left:1126px;top:699px;font-size:9px;">(a) Exact Bayes</div>
<div class="a m" style="left:1236px;top:699px;font-size:9px;">(b) bSAM</div>
<div class="a m" style="left:1311px;top:699px;font-size:9px;">(c) SAM (point est.)</div>
<div class="a m" style="left:1411px;top:699px;font-size:9px;">(d) SAM (Laplace)</div>

<div class="a h" style="left:1093px;top:858px;">References</div>
<div class="a" style="left:1094px;top:895px;font-size:11px;line-height:13.5px;color:#111;">Wu, Dongxian and Xia, Shu-Tao and Wang, Yisen. <b>Adversarial Weight Perturbation</b><br><b>Helps Robust Generalization.</b> <i>NeurIPS</i> 2020</div>
<div class="a" style="left:1094px;top:935px;font-size:11px;line-height:13.5px;color:#111;">Zheng, Yaowei and Zhang, Richong and Mao, Yongyi. <b>Regularizing Neural Networks</b><br><b>via Adversarial Model Perturbation.</b> <i>CVPR</i> 2021</div>
<div class="a" style="left:1094px;top:975px;font-size:11px;line-height:13.5px;color:#111;">Foret, Pierre and Kleiner, Ariel and Mobahi, Hossein and Neyshabur, Behnam.<br><b>Sharpness-aware minimization for efficiently improving generalization.</b> <i>ICLR</i> 2021</div>
<div class="a" style="left:1094px;top:1015px;font-size:11px;line-height:13.5px;color:#111;">Khan, Emtiyaz and Rue, Haavard. <b>The Bayesian Learning Rule.</b> <i>JMLR</i> 2023</div>

</div></div></body></html>
